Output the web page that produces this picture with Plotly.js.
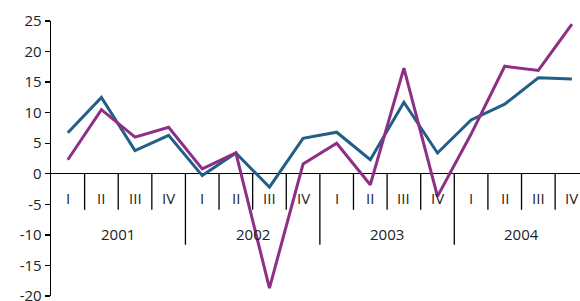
<!DOCTYPE html>
<html>
<head>
<meta charset="utf-8">
<script src="https://cdn.plot.ly/plotly-3.0.1.min.js"></script>
<style>html,body{margin:0;padding:0;background:#fff;}#chart{width:580px;height:301px;}</style>
</head>
<body>
<div id="chart"></div>
<script>
const years = ["2001", "2002", "2003", "2004"];
const quarters = ["I", "II", "III", "IV"];
const seriesBlue = [6.7, 12.5, 3.8, 6.3, -0.3, 3.4, -2.2, 5.8, 6.8, 2.3, 11.7, 3.4, 8.8, 11.4, 15.7, 15.5];
const seriesMagenta = [2.3, 10.5, 6.0, 7.6, 0.8, 3.4, -18.7, 1.6, 5.0, -1.8, 17.3, -3.7, 6.5, 17.6, 16.9, 24.5];
const yTickVals = [-20, -15, -10, -5, 0, 5, 10, 15, 20, 25];
const yTickText = ["-20", "-15", "-10", "-5", "0", "5", "10", "15", "20", "25"];

const font = "Open Sans, Noto Sans, sans-serif";
const textColor = "#222";
const n = years.length * quarters.length;
const xIdx = [];
for (let i = 0; i < n; i++) xIdx.push(i);

const traces = [
  {x: xIdx, y: seriesBlue, type: "scatter", mode: "lines",
   line: {color: "#215f87", width: 3}, hoverinfo: "skip"},
  {x: xIdx, y: seriesMagenta, type: "scatter", mode: "lines",
   line: {color: "#8d2f86", width: 3}, hoverinfo: "skip"}
];

const shapes = [];
const annotations = [];
const qTickBottom = -5.9, yTickBottom = -11.6, qLabelY = -3.9, yLabelY = -9.8;
for (let i = 1; i < n; i++) {
  const isYear = i % quarters.length === 0;
  shapes.push({type: "line", xref: "x", yref: "y", x0: i - 0.5, x1: i - 0.5,
    y0: 0, y1: isYear ? yTickBottom : qTickBottom, line: {color: "#000", width: 1.3}});
}
for (let i = 0; i < n; i++) {
  annotations.push({x: i, y: qLabelY, xref: "x", yref: "y", text: quarters[i % quarters.length],
    showarrow: false, font: {family: font, size: 15, color: textColor}});
}
years.forEach((yr, k) => {
  annotations.push({x: k * quarters.length + (quarters.length - 1) / 2, y: yLabelY, xref: "x", yref: "y",
    text: yr, showarrow: false, font: {family: font, size: 15, color: textColor}});
});

const layout = {
  width: 580, height: 301,
  margin: {l: 51, r: 0, t: 21, b: 5},
  paper_bgcolor: "#fff", plot_bgcolor: "#fff",
  showlegend: false,
  font: {family: font, size: 15, color: textColor},
  xaxis: {range: [-0.5, 15.24], showgrid: false, zeroline: false, showticklabels: false,
    ticks: "", showline: false, fixedrange: true},
  yaxis: {range: [-20, 25], tickvals: yTickVals, ticktext: yTickText,
    showgrid: false, zeroline: true, zerolinecolor: "#000", zerolinewidth: 1.3,
    showline: true, linecolor: "#000", linewidth: 1.3, ticks: "outside", ticklen: 5,
    tickcolor: "#000", tickwidth: 1.3, tickfont: {family: font, size: 15, color: textColor},
    ticklabeloverflow: "allow", fixedrange: true},
  shapes: shapes,
  annotations: annotations
};
Plotly.newPlot("chart", traces, layout, {staticPlot: true, displayModeBar: false});
</script>
</body>
</html>
